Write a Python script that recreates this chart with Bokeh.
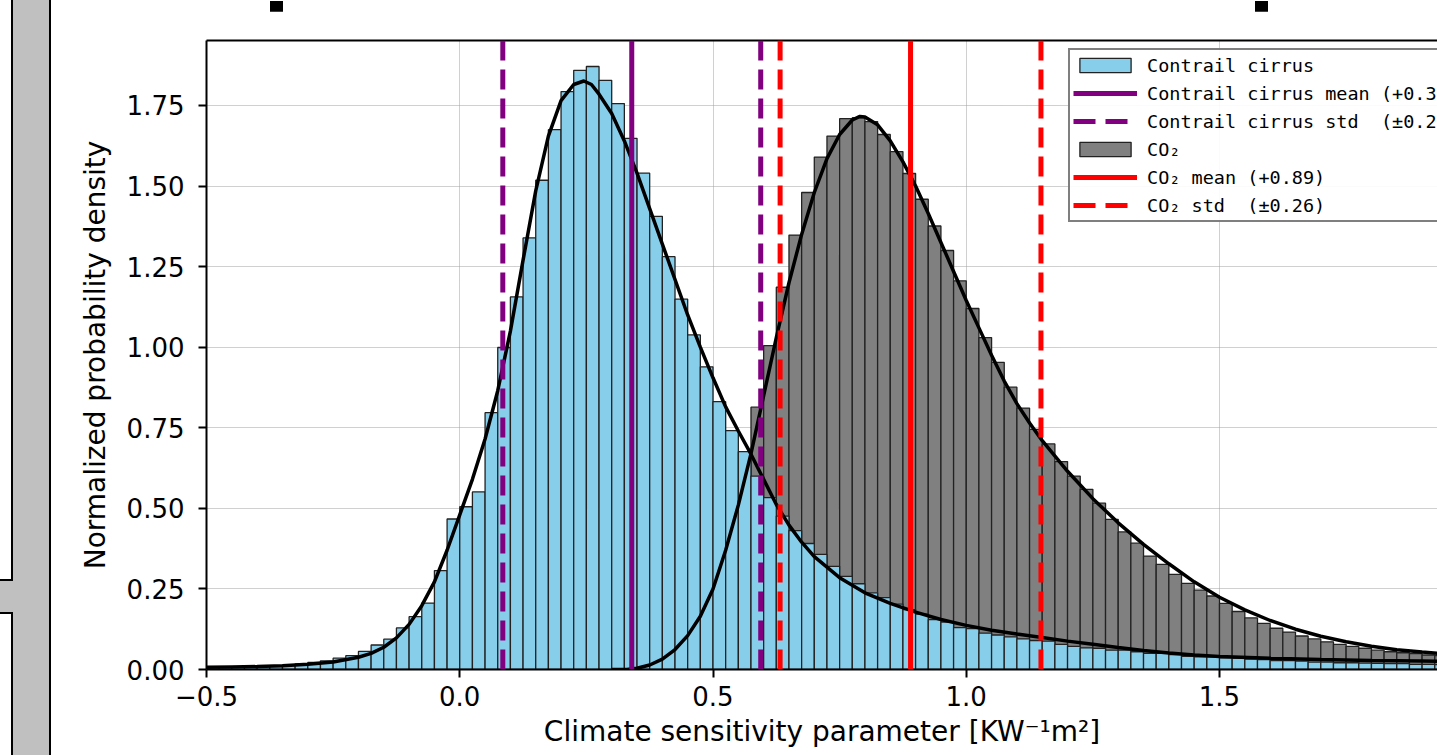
import numpy as np
from bokeh.plotting import figure
from bokeh.layouts import row, column
from bokeh.models import (FixedTicker, CustomJSTickFormatter, NumeralTickFormatter, Legend,
                          LegendItem, LinearAxis, Range1d, Span, Div)
from bokeh.embed import file_html
from bokeh.resources import INLINE

# ---------------- data ----------------
BIN_WIDTH = 0.025

cirrus_first_edge = -0.5
cirrus_density = [
    0.007, 0.007, 0.008, 0.009, 0.010, 0.011, 0.013, 0.017, 0.022, 0.027,
    0.035, 0.043, 0.056, 0.076, 0.094, 0.129, 0.164, 0.206, 0.307, 0.467,
    0.505, 0.551, 0.797, 0.999, 1.156, 1.339, 1.518, 1.675, 1.793, 1.859,
    1.871, 1.828, 1.756, 1.648, 1.540, 1.406, 1.281, 1.149, 1.038, 0.939,
    0.831, 0.741, 0.676, 0.600, 0.533, 0.476, 0.431, 0.391, 0.357, 0.320,
    0.289, 0.266, 0.238, 0.223, 0.203, 0.186, 0.172, 0.155, 0.147, 0.130,
    0.127, 0.113, 0.107, 0.101, 0.095, 0.090, 0.088, 0.078, 0.072, 0.067,
    0.066, 0.060, 0.060, 0.055, 0.050, 0.050, 0.046, 0.041, 0.039, 0.039,
    0.036, 0.035, 0.032, 0.031, 0.028, 0.028, 0.026, 0.023, 0.023, 0.021,
    0.021, 0.020, 0.019, 0.018, 0.018, 0.016, 0.016, 0.015,
]

co2_first_edge = 0.35
co2_density = [
    0.005, 0.018, 0.042, 0.078, 0.130, 0.205, 0.305, 0.435, 0.600, 0.814,
    1.005, 1.186, 1.348, 1.480, 1.590, 1.655, 1.709, 1.712, 1.700, 1.660,
    1.607, 1.539, 1.459, 1.376, 1.300, 1.206, 1.120, 1.030, 0.953, 0.876,
    0.811, 0.745, 0.700, 0.645, 0.600, 0.559, 0.516, 0.466, 0.427, 0.392,
    0.352, 0.326, 0.295, 0.267, 0.246, 0.228, 0.205, 0.180, 0.160, 0.143,
    0.128, 0.116, 0.104, 0.095, 0.086, 0.078, 0.072, 0.066, 0.060, 0.055,
    0.052, 0.049, 0.045, 0.043,
]

cirrus_fit_x = [-0.50, -0.45, -0.40, -0.35, -0.30, -0.25, -0.20, -0.175, -0.15, -0.125,
                -0.10, -0.075, -0.05, -0.025, 0.00, 0.025, 0.05, 0.075, 0.10, 0.125,
                0.15, 0.175, 0.20, 0.225, 0.245, 0.26, 0.275, 0.30, 0.325, 0.35,
                0.375, 0.40, 0.425, 0.45, 0.475, 0.50, 0.525, 0.55, 0.575, 0.60,
                0.625, 0.65, 0.675, 0.70, 0.75, 0.80, 0.85, 0.90, 0.95, 1.00,
                1.05, 1.10, 1.15, 1.20, 1.25, 1.30, 1.35, 1.40, 1.45, 1.50,
                1.60, 1.70, 1.80, 1.90, 1.95]
cirrus_fit_y = [0.007, 0.008, 0.009, 0.012, 0.016, 0.023, 0.038, 0.050, 0.069, 0.098,
                0.140, 0.198, 0.272, 0.370, 0.480, 0.590, 0.715, 0.865, 1.050, 1.270,
                1.485, 1.655, 1.765, 1.815, 1.826, 1.815, 1.785, 1.725, 1.640, 1.540,
                1.430, 1.320, 1.210, 1.100, 1.000, 0.905, 0.815, 0.740, 0.668, 0.590,
                0.512, 0.448, 0.395, 0.350, 0.285, 0.238, 0.205, 0.178, 0.155, 0.137,
                0.122, 0.110, 0.099, 0.088, 0.078, 0.068, 0.059, 0.051, 0.045, 0.040,
                0.035, 0.031, 0.028, 0.026, 0.025]

co2_fit_x = [0.30, 0.33, 0.35, 0.375, 0.40, 0.425, 0.45, 0.475, 0.50, 0.525,
             0.55, 0.575, 0.60, 0.625, 0.65, 0.675, 0.70, 0.725, 0.75, 0.775,
             0.79, 0.80, 0.825, 0.85, 0.875, 0.90, 0.925, 0.95, 0.975, 1.00,
             1.025, 1.05, 1.075, 1.10, 1.125, 1.15, 1.20, 1.25, 1.30, 1.35,
             1.40, 1.45, 1.50, 1.55, 1.60, 1.65, 1.70, 1.75, 1.80, 1.85,
             1.90, 1.95]
co2_fit_y = [0.000, 0.000, 0.004, 0.014, 0.032, 0.062, 0.105, 0.165, 0.250, 0.370,
             0.510, 0.670, 0.850, 1.030, 1.200, 1.350, 1.480, 1.585, 1.660, 1.705,
             1.716, 1.714, 1.690, 1.640, 1.575, 1.500, 1.415, 1.325, 1.235, 1.145,
             1.060, 0.975, 0.895, 0.825, 0.765, 0.710, 0.615, 0.530, 0.455, 0.388,
             0.328, 0.272, 0.224, 0.185, 0.152, 0.125, 0.103, 0.086, 0.072, 0.061,
             0.054, 0.048]

cirrus_mean, cirrus_std = 0.3396, 0.2546
co2_mean, co2_std = 0.890, 0.2575

x_ticks = [-0.5, 0.0, 0.5, 1.0, 1.5]
y_ticks = [0.0, 0.25, 0.5, 0.75, 1.0, 1.25, 1.5, 1.75]

x_label = "Climate sensitivity parameter [KW\u207b\u00b9m\u00b2]"
y_label = "Normalized probability density"

# ---------------- layout geometry ----------------
SIDE_W = 51
TOP_H = 11
FIG_W = 1437 - SIDE_W
FIG_H = 755 - TOP_H

p = figure(width=FIG_W, height=FIG_H, output_backend="svg", toolbar_location=None,
           x_range=Range1d(-0.5, 1.9304), y_range=Range1d(0, 1.9516),
           min_border_left=206 - SIDE_W, min_border_right=0, min_border_top=40 - TOP_H,
           min_border_bottom=86,
           background_fill_color="white", border_fill_color="white")
p.outline_line_color = None

c_edges = cirrus_first_edge + BIN_WIDTH * np.arange(len(cirrus_density) + 1)
g_edges = co2_first_edge + BIN_WIDTH * np.arange(len(co2_density) + 1)

edge_col = "#222222"
r_co2 = p.quad(left=g_edges[:-1], right=g_edges[1:], bottom=0, top=co2_density,
               fill_color="#808080", line_color=edge_col, line_width=1.3)
r_cir = p.quad(left=c_edges[:-1], right=c_edges[1:], bottom=0, top=cirrus_density,
               fill_color="#87ceeb", line_color=edge_col, line_width=1.3)

p.line(cirrus_fit_x, cirrus_fit_y, line_color="black", line_width=3.5)
p.line(co2_fit_x, co2_fit_y, line_color="black", line_width=3.5)

DASH = "20 9"
for loc, col, dash in [(cirrus_mean, "#800080", "solid"),
                       (cirrus_mean - cirrus_std, "#800080", DASH),
                       (cirrus_mean + cirrus_std, "#800080", DASH),
                       (co2_mean, "#ff0000", "solid"),
                       (co2_mean - co2_std, "#ff0000", DASH),
                       (co2_mean + co2_std, "#ff0000", DASH)]:
    p.add_layout(Span(location=loc, dimension="height", line_color=col,
                      line_width=5, line_dash=dash))

# legend proxy renderers (a single NaN point, nothing drawn in the plot)
nan1 = np.array([np.nan])
LEG_DASH = "22 10"
l_cm = p.line(x=nan1, y=nan1, line_color="#800080", line_width=5)
l_cs = p.line(x=nan1, y=nan1, line_color="#800080", line_width=5, line_dash=LEG_DASH)
l_gm = p.line(x=nan1, y=nan1, line_color="#ff0000", line_width=5)
l_gs = p.line(x=nan1, y=nan1, line_color="#ff0000", line_width=5, line_dash=LEG_DASH)

items = [
    LegendItem(label="Contrail cirrus", renderers=[r_cir]),
    LegendItem(label=f"Contrail cirrus mean (+{cirrus_mean:.2f})", renderers=[l_cm]),
    LegendItem(label=f"Contrail cirrus std  (\u00b1{cirrus_std:.2f})", renderers=[l_cs]),
    LegendItem(label="CO\u2082", renderers=[r_co2]),
    LegendItem(label=f"CO\u2082 mean (+{co2_mean:.2f})", renderers=[l_gm]),
    LegendItem(label=f"CO\u2082 std  (\u00b1{co2_std:.2f})", renderers=[l_gs]),
]
legend = Legend(items=items, location=(862, 447), margin=0, padding=3, spacing=4,
                glyph_width=64, glyph_height=18, label_height=24, label_standoff=10,
                label_text_font="DejaVu Sans Mono", label_text_font_size="18.5px",
                label_text_color="black",
                border_line_color="black", border_line_width=2,
                background_fill_color="white", background_fill_alpha=0.9)
p.add_layout(legend)

# grid
p.xgrid.ticker = FixedTicker(ticks=x_ticks)
p.ygrid.ticker = FixedTicker(ticks=y_ticks)
for g in (p.xgrid[0], p.ygrid[0]):
    g.grid_line_color = "#a0a0a0"
    g.grid_line_width = 1
    g.grid_line_dash = "1 1"

# axes
p.xaxis.ticker = FixedTicker(ticks=x_ticks)
p.xaxis.formatter = CustomJSTickFormatter(code="return tick.toFixed(1).replace('-', '\u2212');")
p.yaxis.ticker = FixedTicker(ticks=y_ticks)
p.yaxis.formatter = NumeralTickFormatter(format="0.00")
p.xaxis.axis_label = x_label
p.yaxis.axis_label = y_label
for ax in (p.xaxis[0], p.yaxis[0]):
    ax.axis_line_color = "black"
    ax.axis_line_width = 2
    ax.major_tick_line_color = "black"
    ax.major_tick_line_width = 2
    ax.major_tick_out = 8
    ax.major_tick_in = 0
    ax.minor_tick_line_color = None
    ax.major_label_text_font = "DejaVu Sans"
    ax.major_label_text_font_size = "26px"
    ax.major_label_text_color = "black"
    ax.axis_label_text_font = "DejaVu Sans"
    ax.axis_label_text_font_size = "28px"
    ax.axis_label_text_font_style = "normal"
    ax.axis_label_text_color = "black"
p.xaxis.major_label_standoff = 8
p.xaxis.axis_label_standoff = 6
p.yaxis.major_label_standoff = 14
p.yaxis.axis_label_standoff = 12

top_axis = LinearAxis(ticker=FixedTicker(ticks=[]), axis_line_color="black", axis_line_width=2,
                      major_tick_line_color=None, minor_tick_line_color=None,
                      major_label_text_font_size="0px")
p.add_layout(top_axis, "above")

# neighbouring page elements visible around the reference crop
side_html = (
    '<div style="position:relative;width:51px;height:755px;background:#c0c0c0;">'
    '<div style="position:absolute;left:0;top:0;width:13px;height:581px;background:white;'
    'border-right:2px solid black;border-bottom:2px solid black;box-sizing:border-box;"></div>'
    '<div style="position:absolute;left:0;top:612px;width:13px;height:143px;background:white;'
    'border-right:2px solid black;border-top:2px solid black;box-sizing:border-box;"></div>'
    '<div style="position:absolute;left:49px;top:0;width:2px;height:755px;background:black;"></div>'
    '</div>'
)
side = Div(text=side_html, width=SIDE_W, height=755, margin=0)

top_html = (
    f'<div style="position:relative;width:{FIG_W}px;height:{TOP_H}px;background:white;">'
    f'<div style="position:absolute;left:{270 - SIDE_W}px;top:0;width:13px;height:{TOP_H}px;background:black;"></div>'
    f'<div style="position:absolute;left:{1255 - SIDE_W}px;top:0;width:13px;height:{TOP_H}px;background:black;"></div>'
    '</div>'
)
top_strip = Div(text=top_html, width=FIG_W, height=TOP_H, margin=0)

layout = row(side, column(top_strip, p, spacing=0), spacing=0)
open("out.html", "w").write(file_html(layout, INLINE))
